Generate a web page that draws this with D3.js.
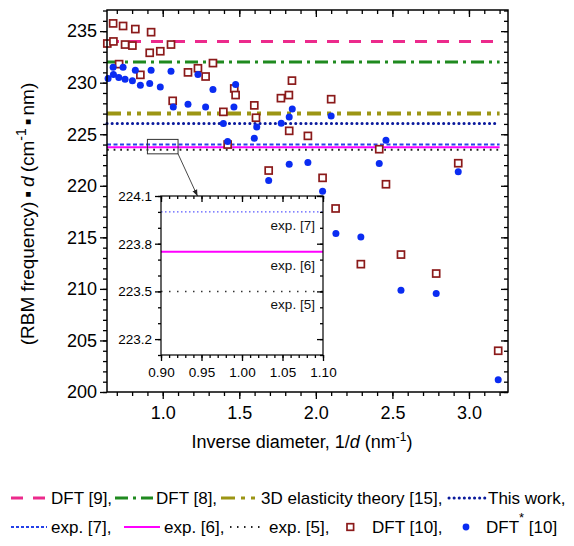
<!DOCTYPE html>
<html>
<head>
<meta charset="utf-8">
<script src="https://cdn.jsdelivr.net/npm/d3@7"></script>
<style>
body { margin: 0; background: #fff; }
svg { display: block; font-family: "Liberation Sans", Arial, sans-serif; }
</style>
</head>
<body>
<svg width="574" height="546"></svg>
<script>
// horizontal reference values (cm-1 nm)
const refLabels = ['DFT [9]', 'DFT [8]', '3D elasticity theory [15]', 'This work', 'exp. [7]', 'exp. [6]', 'exp. [5]'];
const refValues = [234.0, 232.0, 227.0, 226.05, 224.0, 223.75, 223.5];

// DFT [10], open squares: [1/d, freq*d]
const dft10 = [
  [0.676, 235.75], [0.741, 235.5], [0.821, 235.2], [0.924, 234.9], [0.638, 233.8],
  [0.678, 234.0], [0.754, 233.7], [0.802, 233.6], [0.915, 232.9], [0.984, 233.05],
  [1.054, 233.7], [0.715, 231.8], [0.854, 230.76], [1.065, 228.24], [1.165, 231.0],
  [1.23, 231.4], [1.28, 230.6], [1.328, 231.9], [1.396, 227.17], [1.424, 224.0],
  [1.467, 229.44], [1.476, 228.8], [1.598, 227.8], [1.609, 226.6], [1.844, 230.2],
  [1.772, 228.5], [1.824, 228.8], [1.826, 225.33], [1.948, 224.84], [2.1, 228.4],
  [1.692, 221.48], [2.044, 220.77], [2.414, 223.55], [2.458, 220.15], [2.93, 222.19],
  [2.129, 217.8], [2.556, 213.33], [2.294, 212.4], [2.786, 211.49], [3.191, 204.0]
];

// DFT* [10], filled dots
const dftStar10 = [
  [0.643, 230.4], [0.676, 231.5], [0.678, 230.8], [0.713, 230.5], [0.741, 231.5],
  [0.754, 230.34], [0.802, 230.18], [0.821, 231.2], [0.854, 229.76], [0.915, 229.92],
  [0.924, 231.2], [0.984, 229.57], [1.054, 231.1], [1.069, 227.65], [1.165, 227.9],
  [1.23, 230.8], [1.28, 227.65], [1.328, 229.34], [1.396, 226.05], [1.424, 224.3],
  [1.476, 229.83], [1.465, 227.63], [1.614, 225.71], [1.598, 224.6], [1.774, 226.07],
  [1.826, 226.68], [1.846, 227.46], [2.1, 226.78], [1.826, 222.1], [1.948, 222.26],
  [1.692, 220.51], [2.044, 219.47], [2.458, 224.42], [2.414, 222.16], [2.93, 221.35],
  [2.131, 215.37], [2.294, 215.04], [2.556, 209.87], [2.786, 209.55], [3.191, 201.2]
];

const xTicks = [1.0, 1.5, 2.0, 2.5, 3.0];
const yTicks = [200, 205, 210, 215, 220, 225, 230, 235];
const insetXTicks = [0.90, 0.95, 1.00, 1.05, 1.10];
const insetYTicks = [223.2, 223.5, 223.8, 224.1];

// line styles, by label
const lineStyle = {
  'DFT [9]':                   { color: '#ec2a8c', width: 3,   dash: '12,10' },
  'DFT [8]':                   { color: '#1f8a1f', width: 3,   dash: '13,5,3,5' },
  '3D elasticity theory [15]': { color: '#9c9514', width: 4,   dash: '14,6,4,6,4,6' },
  'This work':                 { color: '#0a1a9c', width: 3,   dash: '0.1,5', cap: 'round' },
  'exp. [7]':                  { color: '#2440e8', width: 2,   dash: '4,2.5' },
  'exp. [6]':                  { color: '#ff00ff', width: 2,   dash: null },
  'exp. [5]':                  { color: '#222222', width: 2,   dash: '1.8,4.8' }
};
const insetStyle = {
  'exp. [7]': { color: '#5a5aff', width: 1.2, dash: '1.5,2.5' },
  'exp. [6]': { color: '#ff00ff', width: 2,   dash: null },
  'exp. [5]': { color: '#333333', width: 1.5, dash: '1.5,6.5' }
};

let svg = d3.select('svg');

let x = d3.scaleLinear().domain([0.636, 3.255]).range([107, 508]);
let y = d3.scaleLinear().domain([200, 237.05]).range([392, 10]);

function styleAxis(g, size) {
  g.select('.domain').remove();
  g.selectAll('line').attr('stroke', '#000').attr('stroke-width', 1.3);
  g.selectAll('text').attr('font-size', size).attr('font-family', '"Liberation Sans", Arial, sans-serif').attr('fill', '#000');
}

const xMinor = d3.range(7, 33).map(d => d / 10);
const yMinor = d3.range(200, 238);

// main axes
svg.append('g').attr('transform', 'translate(0,392)')
  .call(d3.axisBottom(x).tickValues(xMinor).tickSize(4).tickFormat(''))
  .call(g => styleAxis(g, 18));
svg.append('g').attr('transform', 'translate(0,392)')
  .call(d3.axisBottom(x).tickValues(xTicks).tickSize(7).tickPadding(7).tickFormat(d3.format('.1f')))
  .call(g => styleAxis(g, 18));
svg.append('g').attr('transform', 'translate(0,10)')
  .call(d3.axisTop(x).tickValues(xMinor).tickSize(-4).tickFormat(''))
  .call(g => styleAxis(g, 18));
svg.append('g').attr('transform', 'translate(0,10)')
  .call(d3.axisTop(x).tickValues(xTicks).tickSize(-7).tickFormat(''))
  .call(g => styleAxis(g, 18));

svg.append('g').attr('transform', 'translate(107,0)')
  .call(d3.axisLeft(y).tickValues(yMinor).tickSize(4).tickFormat(''))
  .call(g => styleAxis(g, 18));
svg.append('g').attr('transform', 'translate(107,0)')
  .call(d3.axisLeft(y).tickValues(yTicks).tickSize(7).tickPadding(3))
  .call(g => styleAxis(g, 18));
svg.append('g').attr('transform', 'translate(508,0)')
  .call(d3.axisRight(y).tickValues(yMinor).tickSize(-4).tickFormat(''))
  .call(g => styleAxis(g, 18));
svg.append('g').attr('transform', 'translate(508,0)')
  .call(d3.axisRight(y).tickValues(yTicks).tickSize(-7).tickFormat(''))
  .call(g => styleAxis(g, 18));

// reference lines
svg.append('g').selectAll('line')
  .data(refLabels.map((name, i) => ({ name: name, value: refValues[i] })))
  .enter()
  .append('line')
  .attr('x1', x(0.636))
  .attr('x2', x(3.2))
  .attr('y1', d => y(d.value))
  .attr('y2', d => y(d.value))
  .attr('stroke', d => lineStyle[d.name].color)
  .attr('stroke-width', d => lineStyle[d.name].width)
  .attr('stroke-dasharray', d => lineStyle[d.name].dash)
  .attr('stroke-linecap', d => lineStyle[d.name].cap || 'butt');

// DFT [10] squares
svg.append('g').selectAll('rect')
  .data(dft10)
  .enter()
  .append('rect')
  .attr('x', d => x(d[0]) - 3.5)
  .attr('y', d => y(d[1]) - 3.5)
  .attr('width', 7)
  .attr('height', 7)
  .attr('fill', '#fff')
  .attr('stroke', '#8b1a1a')
  .attr('stroke-width', 1.7);

// DFT* [10] dots
svg.append('g').selectAll('circle')
  .data(dftStar10)
  .enter()
  .append('circle')
  .attr('cx', d => x(d[0]))
  .attr('cy', d => y(d[1]))
  .attr('r', 3.5)
  .attr('fill', '#0a2cf2');

// frame
svg.append('rect')
  .attr('x', 107).attr('y', 10).attr('width', 401).attr('height', 382)
  .attr('fill', 'none').attr('stroke', '#000').attr('stroke-width', 1.5);

// ---- inset ----
let x2 = d3.scaleLinear().domain([0.9, 1.1]).range([161, 323]);
let y2 = d3.scaleLinear().domain([223.1, 224.1]).range([355, 196]);

// zoom box and arrow
svg.append('rect')
  .attr('x', x(0.9)).attr('y', y(224.5))
  .attr('width', x(1.1) - x(0.9)).attr('height', y(223.1) - y(224.5))
  .attr('fill', 'none').attr('stroke', '#333').attr('stroke-width', 1);

svg.append('defs').append('marker')
  .attr('id', 'arrow')
  .attr('viewBox', '0 0 10 10')
  .attr('refX', 10).attr('refY', 5)
  .attr('markerWidth', 7).attr('markerHeight', 7)
  .attr('orient', 'auto')
  .append('path').attr('d', 'M0,1L10,5L0,9Z').attr('fill', '#222');

svg.append('rect')
  .attr('x', 161).attr('y', 196).attr('width', 162).attr('height', 159)
  .attr('fill', '#fff');

svg.append('line')
  .attr('x1', x(1.1)).attr('y1', y(223.1))
  .attr('x2', x2(0.945)).attr('y2', y2(224.1))
  .attr('stroke', '#333').attr('stroke-width', 0.9)
  .attr('marker-end', 'url(#arrow)');

const insetRefs = refLabels.map((name, i) => ({ name: name, value: refValues[i] }))
  .filter(d => insetStyle[d.name]);

svg.append('g').selectAll('line')
  .data(insetRefs)
  .enter()
  .append('line')
  .attr('x1', x2(0.9)).attr('x2', x2(1.1))
  .attr('y1', d => y2(d.value)).attr('y2', d => y2(d.value))
  .attr('stroke', d => insetStyle[d.name].color)
  .attr('stroke-width', d => insetStyle[d.name].width)
  .attr('stroke-dasharray', d => insetStyle[d.name].dash);

svg.append('g').selectAll('text')
  .data(insetRefs)
  .enter()
  .append('text')
  .attr('x', x2(1.09))
  .attr('y', d => y2(d.value) + 18)
  .attr('text-anchor', 'end')
  .attr('font-size', 13.5)
  .attr('fill', '#111')
  .text(d => d.name);

const insetXMinor = d3.range(90, 111).map(d => d / 100);
const insetYMinor = d3.range(2231, 2242).map(d => d / 10);

svg.append('g').attr('transform', 'translate(0,355)')
  .call(d3.axisBottom(x2).tickValues(insetXMinor).tickSize(3).tickFormat(''))
  .call(g => styleAxis(g, 13.5));
svg.append('g').attr('transform', 'translate(0,355)')
  .call(d3.axisBottom(x2).tickValues(insetXTicks).tickSize(6).tickPadding(6).tickFormat(d3.format('.2f')))
  .call(g => styleAxis(g, 13.5));
svg.append('g').attr('transform', 'translate(0,196)')
  .call(d3.axisTop(x2).tickValues(insetXMinor).tickSize(-3).tickFormat(''))
  .call(g => styleAxis(g, 13.5));
svg.append('g').attr('transform', 'translate(0,196)')
  .call(d3.axisTop(x2).tickValues(insetXTicks).tickSize(-6).tickFormat(''))
  .call(g => styleAxis(g, 13.5));
svg.append('g').attr('transform', 'translate(161,0)')
  .call(d3.axisLeft(y2).tickValues(insetYMinor).tickSize(3).tickFormat(''))
  .call(g => styleAxis(g, 13.5));
svg.append('g').attr('transform', 'translate(161,0)')
  .call(d3.axisLeft(y2).tickValues(insetYTicks).tickSize(6).tickPadding(3).tickFormat(d3.format('.1f')))
  .call(g => styleAxis(g, 13.5));
svg.append('g').attr('transform', 'translate(323,0)')
  .call(d3.axisRight(y2).tickValues(insetYMinor).tickSize(-3).tickFormat(''))
  .call(g => styleAxis(g, 13.5));
svg.append('g').attr('transform', 'translate(323,0)')
  .call(d3.axisRight(y2).tickValues(insetYTicks).tickSize(-6).tickFormat(''))
  .call(g => styleAxis(g, 13.5));

svg.append('rect')
  .attr('x', 161).attr('y', 196).attr('width', 162).attr('height', 159)
  .attr('fill', 'none').attr('stroke', '#000').attr('stroke-width', 1.2);

// ---- axis titles ----
let xt = svg.append('text')
  .attr('x', 302).attr('y', 448)
  .attr('text-anchor', 'middle')
  .attr('font-size', 18);
xt.append('tspan').text('Inverse diameter, 1/');
xt.append('tspan').attr('font-style', 'italic').text('d');
xt.append('tspan').text(' (nm');
xt.append('tspan').attr('font-size', 12).attr('dy', -7).text('-1');
xt.append('tspan').attr('dy', 7).text(')');

let yt = svg.append('text')
  .attr('transform', 'translate(34,214) rotate(-90)')
  .attr('text-anchor', 'middle')
  .attr('font-size', 19);
yt.append('tspan').text('(RBM frequency)');
yt.append('tspan').attr('font-weight', 'bold').attr('dx', 4).text('\u25AA');
yt.append('tspan').attr('font-style', 'italic').attr('dx', 4).text('d');
yt.append('tspan').attr('dx', 4).text('(cm');
yt.append('tspan').attr('font-size', 14).attr('dy', -8).text('-1');
yt.append('tspan').attr('dy', 8).attr('dx', 3).attr('font-weight', 'bold').text('\u25AA');
yt.append('tspan').attr('dx', 3).text('nm)');

// ---- legend ----
const legendRow1 = 498, legendRow2 = 527;
const legendLines = [
  { name: 'DFT [9]',                   x1: 11,  x2: 47,  tx: 51,  row: legendRow1, label: 'DFT [9],' },
  { name: 'DFT [8]',                   x1: 115, x2: 153, tx: 156, row: legendRow1, label: 'DFT [8],' },
  { name: '3D elasticity theory [15]', x1: 221, x2: 258, tx: 261, row: legendRow1, label: '3D elasticity theory [15],' },
  { name: 'This work',                 x1: 449, x2: 485, tx: 488, row: legendRow1, label: 'This work,' },
  { name: 'exp. [7]',                  x1: 11,  x2: 47,  tx: 51,  row: legendRow2, label: 'exp. [7],' },
  { name: 'exp. [6]',                  x1: 124, x2: 160, tx: 164, row: legendRow2, label: 'exp. [6],' },
  { name: 'exp. [5]',                  x1: 230, x2: 262, tx: 269, row: legendRow2, label: 'exp. [5],' }
];

let lg = svg.append('g');
lg.selectAll('line')
  .data(legendLines)
  .enter()
  .append('line')
  .attr('x1', d => d.x1).attr('x2', d => d.x2)
  .attr('y1', d => d.row).attr('y2', d => d.row)
  .attr('stroke', d => lineStyle[d.name].color)
  .attr('stroke-width', d => Math.min(lineStyle[d.name].width, 3))
  .attr('stroke-dasharray', d => d.name == 'exp. [7]' ? '3,2' : (d.name == 'exp. [5]' ? '1.5,5.5' : lineStyle[d.name].dash))
  .attr('stroke-linecap', d => lineStyle[d.name].cap || 'butt');

lg.selectAll('text.lab')
  .data(legendLines)
  .enter()
  .append('text')
  .attr('class', 'lab')
  .attr('x', d => d.tx).attr('y', d => d.row + 6)
  .attr('font-size', 17)
  .text(d => d.label);

lg.append('rect')
  .attr('x', 347).attr('y', legendRow2 - 3.3).attr('width', 6.6).attr('height', 6.6)
  .attr('fill', '#fff').attr('stroke', '#8b1a1a').attr('stroke-width', 1.7);
lg.append('text').attr('x', 372).attr('y', legendRow2 + 6).attr('font-size', 17).text('DFT [10],');

lg.append('circle').attr('cx', 466).attr('cy', legendRow2).attr('r', 3.4).attr('fill', '#0a2cf2');
let st = lg.append('text').attr('x', 486).attr('y', legendRow2 + 6).attr('font-size', 17);
st.append('tspan').text('DFT');
st.append('tspan').attr('font-size', 13).attr('dy', -11).text('*');
st.append('tspan').attr('dy', 11).text(' [10]');
</script>
</body>
</html>
